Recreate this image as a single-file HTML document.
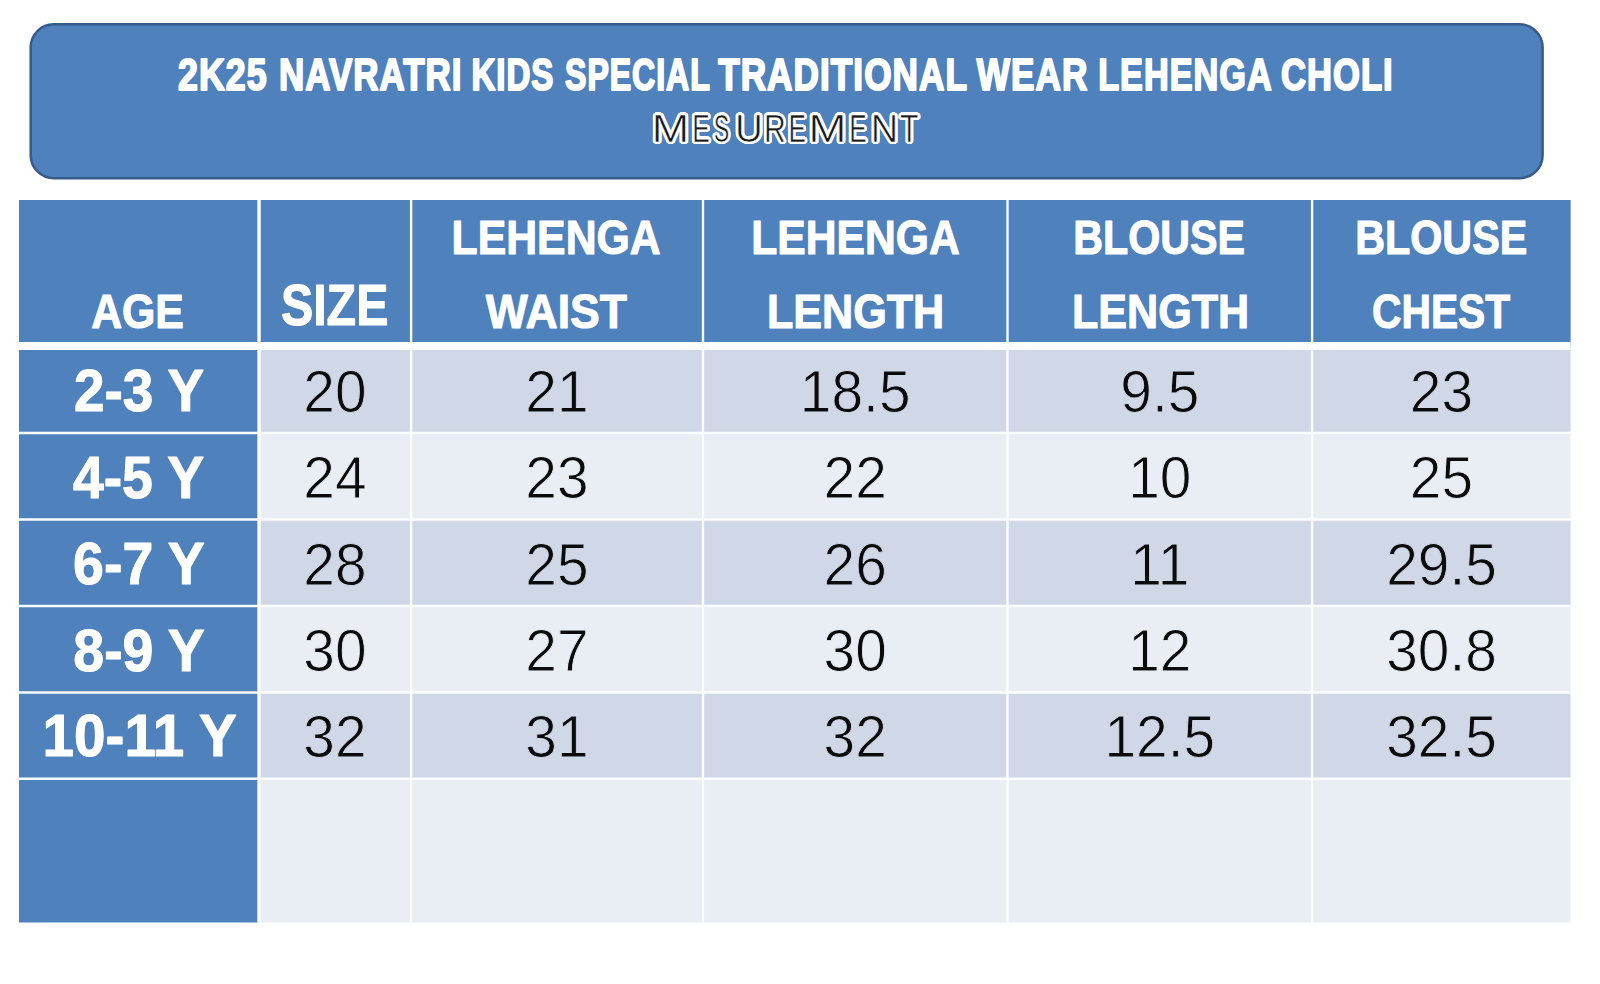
<!DOCTYPE html>
<html lang="en"><head><meta charset="utf-8"><title>2K25 Navratri Kids Special Traditional Wear Lehenga Choli - Measurement</title>
<style>html,body{margin:0;padding:0;background:#fff;}body{width:1600px;height:984px;overflow:hidden;}svg{display:block;font-family:"Liberation Sans",sans-serif;}text{font-size:100px;white-space:pre;}.w{fill:#fff;stroke:#fff;font-weight:bold;stroke-linejoin:round;vector-effect:non-scaling-stroke;}.k{fill:#0b0b0b;font-weight:normal;}</style></head><body>
<svg width="1600" height="984" viewBox="0 0 1600 984">
<rect width="1600" height="984" fill="#ffffff"/>
<rect x="30.7" y="24.3" width="1511.9" height="153.9" rx="23" ry="23" fill="#4f81bd" stroke="#375b89" stroke-width="2.5"/>
<rect x="19" y="200" width="1551.6" height="146" fill="#4f81bd"/>
<rect x="259.05" y="346" width="1311.55" height="87" fill="#d0d8e8"/>
<rect x="259.05" y="433" width="1311.55" height="86.5" fill="#e9edf4"/>
<rect x="259.05" y="519.5" width="1311.55" height="86.5" fill="#d0d8e8"/>
<rect x="259.05" y="606" width="1311.55" height="86.5" fill="#e9edf4"/>
<rect x="259.05" y="692.5" width="1311.55" height="86.25" fill="#d0d8e8"/>
<rect x="259.05" y="778.75" width="1311.55" height="143.75" fill="#e9edf4"/>
<rect x="19" y="346" width="240.05" height="576.5" fill="#4f81bd"/>
<g stroke="#fbfdff" fill="none">
<line x1="259.05" y1="200" x2="259.05" y2="922.5" stroke-width="3.4"/>
<line x1="411.1" y1="200" x2="411.1" y2="922.5" stroke-width="2.4"/>
<line x1="703" y1="200" x2="703" y2="922.5" stroke-width="2.4"/>
<line x1="1007.5" y1="200" x2="1007.5" y2="922.5" stroke-width="2.4"/>
<line x1="1312.1" y1="200" x2="1312.1" y2="922.5" stroke-width="2.4"/>
<line x1="19" y1="433" x2="1570.6" y2="433" stroke-width="2.4"/>
<line x1="19" y1="519.5" x2="1570.6" y2="519.5" stroke-width="2.4"/>
<line x1="19" y1="606" x2="1570.6" y2="606" stroke-width="2.4"/>
<line x1="19" y1="692.5" x2="1570.6" y2="692.5" stroke-width="2.4"/>
<line x1="19" y1="778.75" x2="1570.6" y2="778.75" stroke-width="2.4"/>
<line x1="19" y1="346" x2="1570.6" y2="346" stroke-width="8"/>
</g>
<text class="w" stroke-width="1.8" letter-spacing="3" transform="matrix(0.35761 0 0 0.43605 177.932 89.800)">2K25</text>
<text class="w" stroke-width="1.8" letter-spacing="3" transform="matrix(0.34936 0 0 0.43605 278.944 89.800)">NAVRATRI</text>
<text class="w" stroke-width="1.8" letter-spacing="3" transform="matrix(0.33058 0 0 0.43605 471.395 89.800)">KIDS</text>
<text class="w" stroke-width="1.8" letter-spacing="3" transform="matrix(0.32047 0 0 0.43605 565.114 89.800)">SPECIAL</text>
<text class="w" stroke-width="1.8" letter-spacing="3" transform="matrix(0.35164 0 0 0.43605 718.157 89.800)">TRADITIONAL</text>
<text class="w" stroke-width="1.8" letter-spacing="3" transform="matrix(0.35176 0 0 0.43605 976.761 89.800)">WEAR</text>
<text class="w" stroke-width="1.8" letter-spacing="3" transform="matrix(0.34240 0 0 0.43605 1098.155 89.800)">LEHENGA</text>
<text class="w" stroke-width="1.8" letter-spacing="3" transform="matrix(0.34535 0 0 0.43605 1281.102 89.800)">CHOLI</text>
<text class="w" stroke-width="1" transform="matrix(0.42811 0 0 0.48692 91.179 327.500)">AGE</text>
<text class="w" stroke-width="1" transform="matrix(0.48362 0 0 0.56541 280.927 325.000)">SIZE</text>
<text class="w" stroke-width="1" transform="matrix(0.42781 0 0 0.48692 451.564 254.000)">LEHENGA</text>
<text class="w" stroke-width="1" transform="matrix(0.44590 0 0 0.48692 485.849 327.500)">WAIST</text>
<text class="w" stroke-width="1" transform="matrix(0.42650 0 0 0.48692 751.286 254.000)">LEHENGA</text>
<text class="w" stroke-width="1" transform="matrix(0.43129 0 0 0.48692 766.908 327.500)">LENGTH</text>
<text class="w" stroke-width="1" transform="matrix(0.41271 0 0 0.48692 1073.143 254.000)">BLOUSE</text>
<text class="w" stroke-width="1" transform="matrix(0.43129 0 0 0.48692 1071.908 327.500)">LENGTH</text>
<text class="w" stroke-width="1" transform="matrix(0.41309 0 0 0.48692 1355.133 254.000)">BLOUSE</text>
<text class="w" stroke-width="1" transform="matrix(0.40816 0 0 0.48692 1371.963 327.500)">CHEST</text>
<text class="w" stroke-width="1" transform="matrix(0.54921 0 0 0.58576 73.917 411.100)">2-3 Y</text>
<text class="w" stroke-width="1" transform="matrix(0.55381 0 0 0.58576 72.877 497.500)">4-5 Y</text>
<text class="w" stroke-width="1" transform="matrix(0.55533 0 0 0.58576 73.050 584.200)">6-7 Y</text>
<text class="w" stroke-width="1" transform="matrix(0.55451 0 0 0.58576 73.327 670.600)">8-9 Y</text>
<text class="w" stroke-width="1" transform="matrix(0.56644 0 0 0.58576 42.587 756.400)">10-11 Y</text>
<g class="k" text-anchor="middle" stroke="#d0d8e8" stroke-width="1.517">
<text transform="matrix(0.56888 0 0 0.59312 334.900 411.650)">20</text>
<text transform="matrix(0.56888 0 0 0.59312 557.000 411.650)">21</text>
<text transform="matrix(0.56888 0 0 0.59312 855.200 411.650)">18.5</text>
<text transform="matrix(0.56888 0 0 0.59312 1159.800 411.650)">9.5</text>
<text transform="matrix(0.56888 0 0 0.59312 1441.500 411.650)">23</text>
</g>
<g class="k" text-anchor="middle" stroke="#e9edf4" stroke-width="1.517">
<text transform="matrix(0.56888 0 0 0.59312 334.900 498.350)">24</text>
<text transform="matrix(0.56888 0 0 0.59312 557.000 498.350)">23</text>
<text transform="matrix(0.56888 0 0 0.59312 855.200 498.350)">22</text>
<text transform="matrix(0.56888 0 0 0.59312 1159.800 498.350)">10</text>
<text transform="matrix(0.56888 0 0 0.59312 1441.500 498.350)">25</text>
</g>
<g class="k" text-anchor="middle" stroke="#d0d8e8" stroke-width="1.517">
<text transform="matrix(0.56888 0 0 0.59312 334.900 584.750)">28</text>
<text transform="matrix(0.56888 0 0 0.59312 557.000 584.750)">25</text>
<text transform="matrix(0.56888 0 0 0.59312 855.200 584.750)">26</text>
<text transform="matrix(0.56888 0 0 0.59312 1159.800 584.750)">11</text>
<text transform="matrix(0.56888 0 0 0.59312 1441.500 584.750)">29.5</text>
</g>
<g class="k" text-anchor="middle" stroke="#e9edf4" stroke-width="1.517">
<text transform="matrix(0.56888 0 0 0.59312 334.900 671.150)">30</text>
<text transform="matrix(0.56888 0 0 0.59312 557.000 671.150)">27</text>
<text transform="matrix(0.56888 0 0 0.59312 855.200 671.150)">30</text>
<text transform="matrix(0.56888 0 0 0.59312 1159.800 671.150)">12</text>
<text transform="matrix(0.56888 0 0 0.59312 1441.500 671.150)">30.8</text>
</g>
<g class="k" text-anchor="middle" stroke="#d0d8e8" stroke-width="1.517">
<text transform="matrix(0.56888 0 0 0.59312 334.900 756.750)">32</text>
<text transform="matrix(0.56888 0 0 0.59312 557.000 756.750)">31</text>
<text transform="matrix(0.56888 0 0 0.59312 855.200 756.750)">32</text>
<text transform="matrix(0.56888 0 0 0.59312 1159.800 756.750)">12.5</text>
<text transform="matrix(0.56888 0 0 0.59312 1441.500 756.750)">32.5</text>
</g>
<defs><g id="ms" font-weight="normal">
<text transform="matrix(0.4544 0 0 0.3910 651.57 141.70)">M</text>
<text transform="matrix(0.2638 0 0 0.3910 692.24 141.70)">E</text>
<text transform="matrix(0.2328 0 0 0.3910 713.64 141.70)">S</text>
<text transform="matrix(0.3857 0 0 0.3910 735.12 141.70)">U</text>
<text transform="matrix(0.3015 0 0 0.3910 763.93 141.70)">R</text>
<text transform="matrix(0.2620 0 0 0.3910 788.45 141.70)">E</text>
<text transform="matrix(0.4604 0 0 0.3910 808.32 141.70)">M</text>
<text transform="matrix(0.2620 0 0 0.3910 849.15 141.70)">E</text>
<text transform="matrix(0.3795 0 0 0.3910 870.79 141.70)">N</text>
<text transform="matrix(0.3024 0 0 0.3910 900.12 141.70)">T</text>
</g></defs>
<g fill="#ffffff">
<use href="#ms" x="2.30" y="0.00"/>
<use href="#ms" x="2.12" y="0.88"/>
<use href="#ms" x="1.63" y="1.63"/>
<use href="#ms" x="0.88" y="2.12"/>
<use href="#ms" x="0.00" y="2.30"/>
<use href="#ms" x="-0.88" y="2.12"/>
<use href="#ms" x="-1.63" y="1.63"/>
<use href="#ms" x="-2.12" y="0.88"/>
<use href="#ms" x="-2.30" y="0.00"/>
<use href="#ms" x="-2.12" y="-0.88"/>
<use href="#ms" x="-1.63" y="-1.63"/>
<use href="#ms" x="-0.88" y="-2.12"/>
<use href="#ms" x="-0.00" y="-2.30"/>
<use href="#ms" x="0.88" y="-2.12"/>
<use href="#ms" x="1.63" y="-1.63"/>
<use href="#ms" x="2.12" y="-0.88"/>
<use href="#ms" x="1.06" y="0.44"/>
<use href="#ms" x="0.44" y="1.06"/>
<use href="#ms" x="-0.44" y="1.06"/>
<use href="#ms" x="-1.06" y="0.44"/>
<use href="#ms" x="-1.06" y="-0.44"/>
<use href="#ms" x="-0.44" y="-1.06"/>
<use href="#ms" x="0.44" y="-1.06"/>
<use href="#ms" x="1.06" y="-0.44"/>
</g>
<use href="#ms" fill="#1a1a1a" stroke="#ffffff" stroke-width="1.8"/>
</svg></body></html>
